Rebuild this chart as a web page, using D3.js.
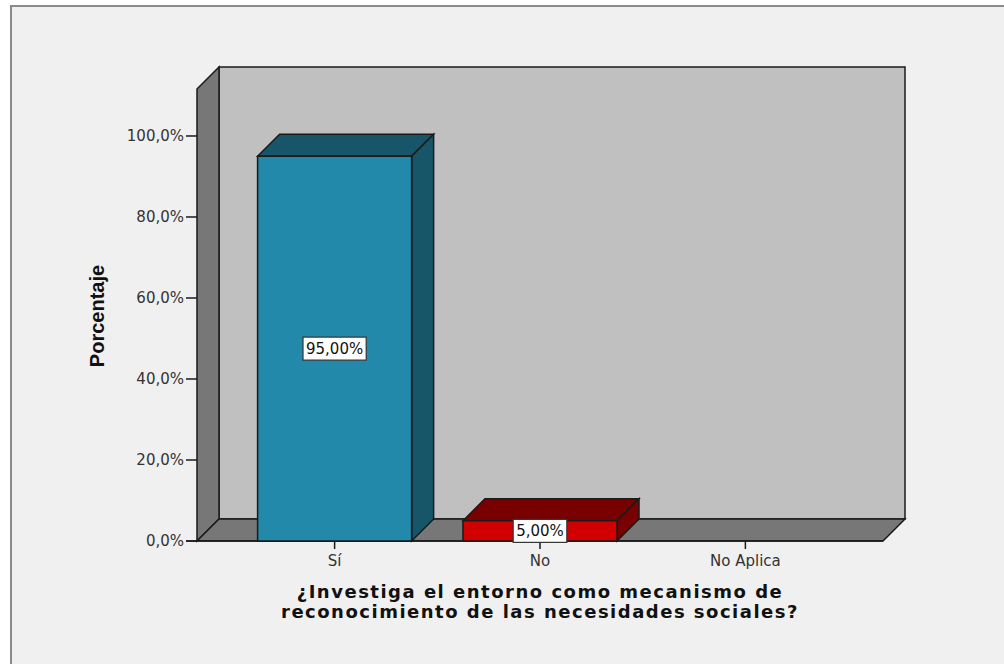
<!DOCTYPE html>
<html>
<head>
<meta charset="utf-8">
<script src="https://cdn.jsdelivr.net/npm/d3@7"></script>
<style>
  html, body { margin: 0; padding: 0; background: #ffffff; }
  svg { display: block; }
</style>
</head>
<body>
<svg id="chart" width="1004" height="664"></svg>
<script>
// Survey answers and their share of responses (%)
const categories = ["Sí", "No", "No Aplica"];
const values = [95, 5, 0];
const valueLabels = ["95,00%", "5,00%", ""];
const yTicks = [0, 20, 40, 60, 80, 100];
const yTickLabels = ["0,0%", "20,0%", "40,0%", "60,0%", "80,0%", "100,0%"];
const xTitle = ["¿Investiga el entorno como mecanismo de", "reconocimiento de las necesidades sociales?"];
const yTitle = "Porcentaje";
const barColors = [
  { front: "#2389ab", dark: "#175569" },
  { front: "#d00000", dark: "#780000" },
  { front: "#888888", dark: "#555555" }
];

const svg = d3.select("#chart");

// outer panel
svg.append("rect")
  .attr("x", 11).attr("y", 6).attr("width", 1010).attr("height", 680)
  .attr("fill", "#f0f0f0").attr("stroke", "#8a8a8a").attr("stroke-width", 2);

// plot geometry
const left = 197, right = 883, baseY = 541, topY = 89;
const dx = 22, dy = 22; // depth offset of the 3D box

const y = d3.scaleLinear().domain([0, 111.6]).range([baseY, topY]);
const x = d3.scalePoint().domain(categories).range([left, right]).padding(0.67);
const barW = x.step() * 0.75;

const poly = pts => "M" + pts.map(p => p.join(",")).join("L") + "Z";
const stroke = "#1a1a1a";

// back wall
svg.append("path")
  .attr("d", poly([[left + dx, topY - dy], [right + dx, topY - dy], [right + dx, baseY - dy], [left + dx, baseY - dy]]))
  .attr("fill", "#c0c0c0").attr("stroke", stroke).attr("stroke-width", 1.5);

// left wall
svg.append("path")
  .attr("d", poly([[left, topY], [left + dx, topY - dy], [left + dx, baseY - dy], [left, baseY]]))
  .attr("fill", "#777777").attr("stroke", stroke).attr("stroke-width", 1.5);

// floor
svg.append("path")
  .attr("d", poly([[left, baseY], [left + dx, baseY - dy], [right + dx, baseY - dy], [right, baseY]]))
  .attr("fill", "#777777").attr("stroke", stroke).attr("stroke-width", 1.5);

// y axis ticks and labels
const yAxis = svg.append("g");
yTicks.forEach((t, i) => {
  yAxis.append("line")
    .attr("x1", left - 11).attr("x2", left)
    .attr("y1", y(t)).attr("y2", y(t))
    .attr("stroke", stroke).attr("stroke-width", 1.5);
  yAxis.append("text")
    .attr("x", left - 13).attr("y", y(t))
    .attr("dy", "0.36em")
    .attr("text-anchor", "end")
    .attr("font-family", "DejaVu Sans, sans-serif")
    .attr("font-size", 15)
    .attr("fill", "#333333")
    .text(yTickLabels[i]);
});

// x axis ticks and labels
const xAxis = svg.append("g");
categories.forEach(c => {
  xAxis.append("line")
    .attr("x1", x(c)).attr("x2", x(c))
    .attr("y1", baseY).attr("y2", baseY + 8)
    .attr("stroke", stroke).attr("stroke-width", 1.5);
  xAxis.append("text")
    .attr("x", x(c)).attr("y", baseY + 25)
    .attr("text-anchor", "middle")
    .attr("font-family", "DejaVu Sans, sans-serif")
    .attr("font-size", 15)
    .attr("fill", "#333333")
    .text(c);
});

// front axis line
svg.append("line")
  .attr("x1", left - 11).attr("x2", right)
  .attr("y1", baseY).attr("y2", baseY)
  .attr("stroke", stroke).attr("stroke-width", 1.5);

// 3D bars
const bars = svg.append("g");
categories.forEach((c, i) => {
  const v = values[i];
  if (v <= 0) return;
  const x0 = x(c) - barW / 2, x1 = x(c) + barW / 2;
  const yt = y(v);
  const col = barColors[i];
  const g = bars.append("g");
  g.append("path")
    .attr("d", poly([[x0, yt], [x0 + dx, yt - dy], [x1 + dx, yt - dy], [x1, yt]]))
    .attr("fill", col.dark).attr("stroke", stroke).attr("stroke-width", 1.5);
  g.append("path")
    .attr("d", poly([[x1, yt], [x1 + dx, yt - dy], [x1 + dx, baseY - dy], [x1, baseY]]))
    .attr("fill", col.dark).attr("stroke", stroke).attr("stroke-width", 1.5);
  g.append("rect")
    .attr("x", x0).attr("y", yt).attr("width", barW).attr("height", baseY - yt)
    .attr("fill", col.front).attr("stroke", stroke).attr("stroke-width", 1.5);
});

// value labels in white boxes at the middle of each bar
const labels = svg.append("g");
categories.forEach((c, i) => {
  const v = values[i];
  if (v <= 0) return;
  const cy = y(v / 2);
  const g = labels.append("g");
  const t = g.append("text")
    .attr("x", x(c)).attr("y", cy)
    .attr("dy", "0.36em")
    .attr("text-anchor", "middle")
    .attr("font-family", "DejaVu Sans, sans-serif")
    .attr("font-size", 15)
    .attr("fill", "#111111")
    .text(valueLabels[i]);
  const bb = t.node().getBBox();
  g.insert("rect", "text")
    .attr("x", bb.x - 3).attr("y", cy - 11.5)
    .attr("width", bb.width + 6).attr("height", 23)
    .attr("fill", "#ffffff").attr("stroke", "#333333").attr("stroke-width", 1.2);
});

// axis titles
svg.append("text")
  .attr("transform", `translate(${104},${316}) rotate(-90)`)
  .attr("text-anchor", "middle")
  .attr("font-family", "Liberation Sans, Arial, sans-serif")
  .attr("font-weight", "bold")
  .attr("font-size", 20)
  .attr("fill", "#111111")
  .text(yTitle);

const xt = svg.append("text")
  .attr("x", 540).attr("y", 598)
  .attr("text-anchor", "middle")
  .attr("font-family", "DejaVu Sans, sans-serif")
  .attr("font-weight", "bold")
  .attr("font-size", 18)
  .attr("letter-spacing", 1.5)
  .attr("fill", "#111111");
xTitle.forEach((line, i) => {
  xt.append("tspan").attr("x", 540).attr("dy", i === 0 ? 0 : 20).text(line);
});
</script>
</body>
</html>
